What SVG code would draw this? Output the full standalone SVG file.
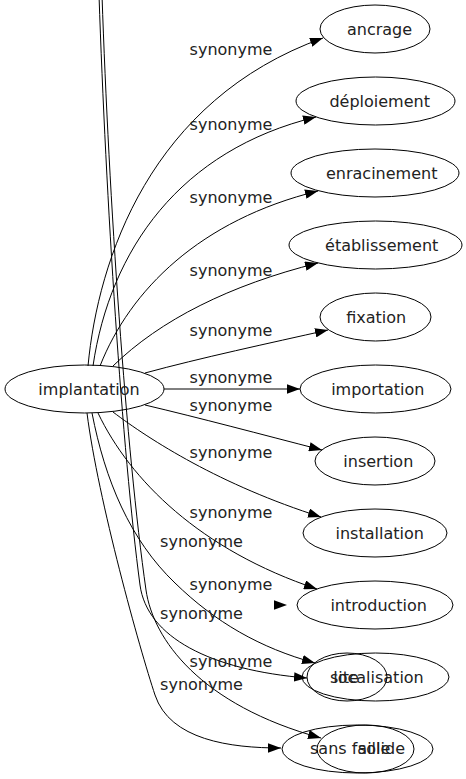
<svg xmlns="http://www.w3.org/2000/svg" width="466" height="779" viewBox="0 0 466 779">
<defs>
<style>
.n ellipse{fill:none;stroke:#000;stroke-width:1}
.n text,.lbl{font-family:"DejaVu Sans",sans-serif;font-size:16px;fill:#222}
.n text{text-anchor:middle}
.lbl{text-anchor:middle}
.e path{fill:none;stroke:#000;stroke-width:1;marker-end:url(#ah)}
</style>
<marker id="ah" viewBox="0 0 13 9.4" refX="13" refY="4.7" markerUnits="userSpaceOnUse" markerWidth="13" markerHeight="9.4" orient="auto">
<path d="M0,0 L13,4.7 L0,9.4 z" fill="#000"/>
</marker>
</defs>
<rect width="466" height="779" fill="#fff"/>
<g id="connectors" class="e">
<path d="M88,366 C98,260 150,100 323,38"/>
<path d="M93,366 C110,250 180,150 316,117"/>
<path d="M100,366 C130,290 200,220 318,191"/>
<path d="M113,366 C160,320 230,285 318,263"/>
<path d="M145,373 C200,358 270,343 328,330"/>
<path d="M164,389 L300,389"/>
<path d="M145,405 C200,418 260,434 322,450"/>
<path d="M113,412 C150,440 220,485 321,517"/>
<path d="M98,413 C130,480 200,550 317,589"/>
<polygon points="274,600.3 287,605 274,609.7" fill="#000"/>
<path d="M92,413 C105,480 130,540 175,583 C215,622 260,648 315,663"/>
<path d="M99,-5 C106,200 122,450 140,585 C147,637 210,670 307,678"/>
<path d="M102,-5 C109,200 126,450 146,590 C153,639 200,705 321,738"/>
<path d="M87,413 C98,500 140,650 155,695 C170,740 230,748 281,748"/>
</g>
<g id="labels">
<text class="lbl" x="231" y="55">synonyme</text>
<text class="lbl" x="231" y="130">synonyme</text>
<text class="lbl" x="231" y="203">synonyme</text>
<text class="lbl" x="231" y="276">synonyme</text>
<text class="lbl" x="231" y="336">synonyme</text>
<text class="lbl" x="231" y="383">synonyme</text>
<text class="lbl" x="231" y="411">synonyme</text>
<text class="lbl" x="231" y="458">synonyme</text>
<text class="lbl" x="231" y="518">synonyme</text>
<text class="lbl" x="201.5" y="547">synonyme</text>
<text class="lbl" x="231" y="590">synonyme</text>
<text class="lbl" x="201.5" y="619">synonyme</text>
<text class="lbl" x="231" y="667">synonyme</text>
<text class="lbl" x="201.5" y="690">synonyme</text>
</g>
<g id="node-implantation" class="n"><ellipse cx="84.5" cy="389" rx="79.5" ry="24"/><text x="89" y="395">implantation</text></g>
<g id="node-ancrage" class="n"><ellipse cx="375" cy="29" rx="55" ry="24"/><text x="379.5" y="35">ancrage</text></g>
<g id="node-deploiement" class="n"><ellipse cx="375.5" cy="101" rx="79.5" ry="24"/><text x="379.7" y="107">déploiement</text></g>
<g id="node-enracinement" class="n"><ellipse cx="375" cy="173" rx="84" ry="24"/><text x="381.7" y="179">enracinement</text></g>
<g id="node-etablissement" class="n"><ellipse cx="375.5" cy="245" rx="86.5" ry="24"/><text x="381.7" y="251">établissement</text></g>
<g id="node-fixation" class="n"><ellipse cx="375.5" cy="317" rx="55.5" ry="24"/><text x="376.2" y="323">fixation</text></g>
<g id="node-importation" class="n"><ellipse cx="375.5" cy="389" rx="75.5" ry="24"/><text x="377.8" y="395">importation</text></g>
<g id="node-insertion" class="n"><ellipse cx="375" cy="461" rx="60" ry="24"/><text x="378.3" y="467">insertion</text></g>
<g id="node-installation" class="n"><ellipse cx="375" cy="533" rx="72" ry="24"/><text x="379.7" y="539">installation</text></g>
<g id="node-introduction" class="n"><ellipse cx="375" cy="605" rx="78" ry="24"/><text x="378.7" y="611">introduction</text></g>
<g id="node-localisation" class="n"><ellipse cx="375.5" cy="677" rx="73.5" ry="24"/><text x="378.5" y="683">localisation</text></g>
<g id="node-site" class="n"><ellipse cx="347" cy="677" rx="40" ry="24"/><text x="330" y="683" style="text-anchor:start">site</text></g>
<g id="node-sans-faille" class="n"><ellipse cx="357.5" cy="749" rx="75.5" ry="24"/><text x="310" y="754" style="text-anchor:start">sans faille</text></g>
<g id="node-solide" class="n"><ellipse cx="365.5" cy="749" rx="48.5" ry="24"/><text x="405" y="754" style="text-anchor:end">solide</text></g>
</svg>
